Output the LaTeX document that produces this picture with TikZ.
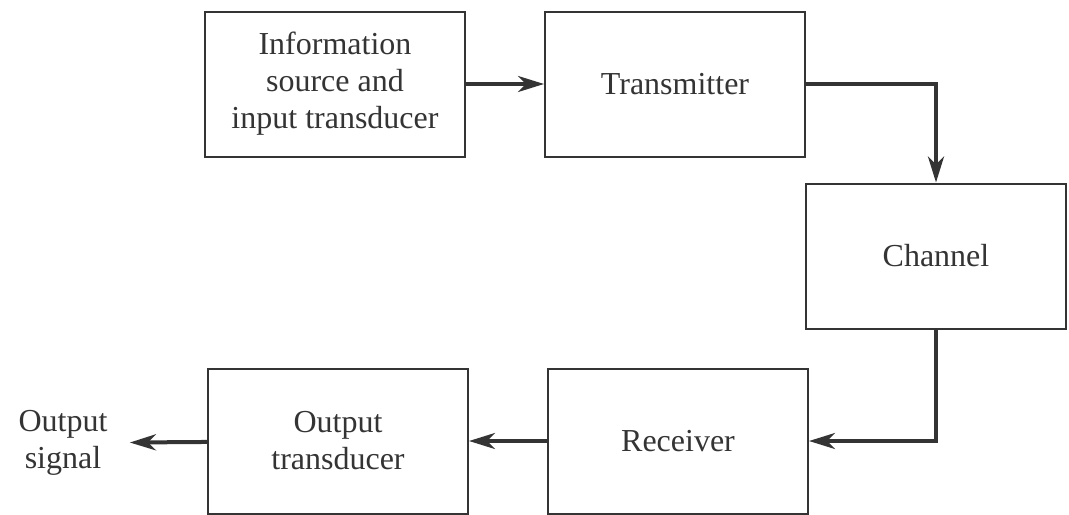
\documentclass[tikz,border=0pt]{standalone}
\usepackage{fontspec}
\setmainfont{Liberation Serif}
\usetikzlibrary{arrows.meta,positioning}
\usepackage{xcolor}
\definecolor{ink}{RGB}{52,52,52}

\begin{document}
\begin{tikzpicture}[x=0.5pt,y=-0.5pt,
    block/.style={draw=ink,line width=1pt,fill=white,text=ink,align=center,
        minimum width=130pt,minimum height=72.5pt,inner sep=0pt,
        font=\fontsize{16}{18.5}\selectfont},
    link/.style={draw=ink,line width=2pt,
        -{Stealth[length=13pt,width=8pt,inset=4pt]}},
    label/.style={text=ink,align=center,inner xsep=11pt,inner ysep=0pt,
        font=\fontsize{16}{18.5}\selectfont}]
            % Page
            \useasboundingbox (0,0) rectangle (1069,514);
            \fill[white] (0,0) rectangle (1069,514);

            % Top row
            \node[block] (source) at (335,84) {Information\\source and\\input transducer};
            \node[block] (transmitter) at (675,84) {Transmitter};

            % Channel
            \node[block] (channel) at (936,256) {Channel};

            % Bottom row
            \node[block] (receiver) at (678,441) {Receiver};
            \node[block] (outtrans) at (338,441) {Output\\transducer};
            \node[label] (signal) at (63,443) {Output\\signal};

            % Links
            \draw[link] (source) -- (transmitter);
            \draw[link] (transmitter.east) -| (channel.north);
            \draw[link] (channel.south) |- (receiver.east);
            \draw[link] (receiver) -- (outtrans);
            \draw[link] (outtrans) -- (signal);
        \end{tikzpicture}
\end{document}
